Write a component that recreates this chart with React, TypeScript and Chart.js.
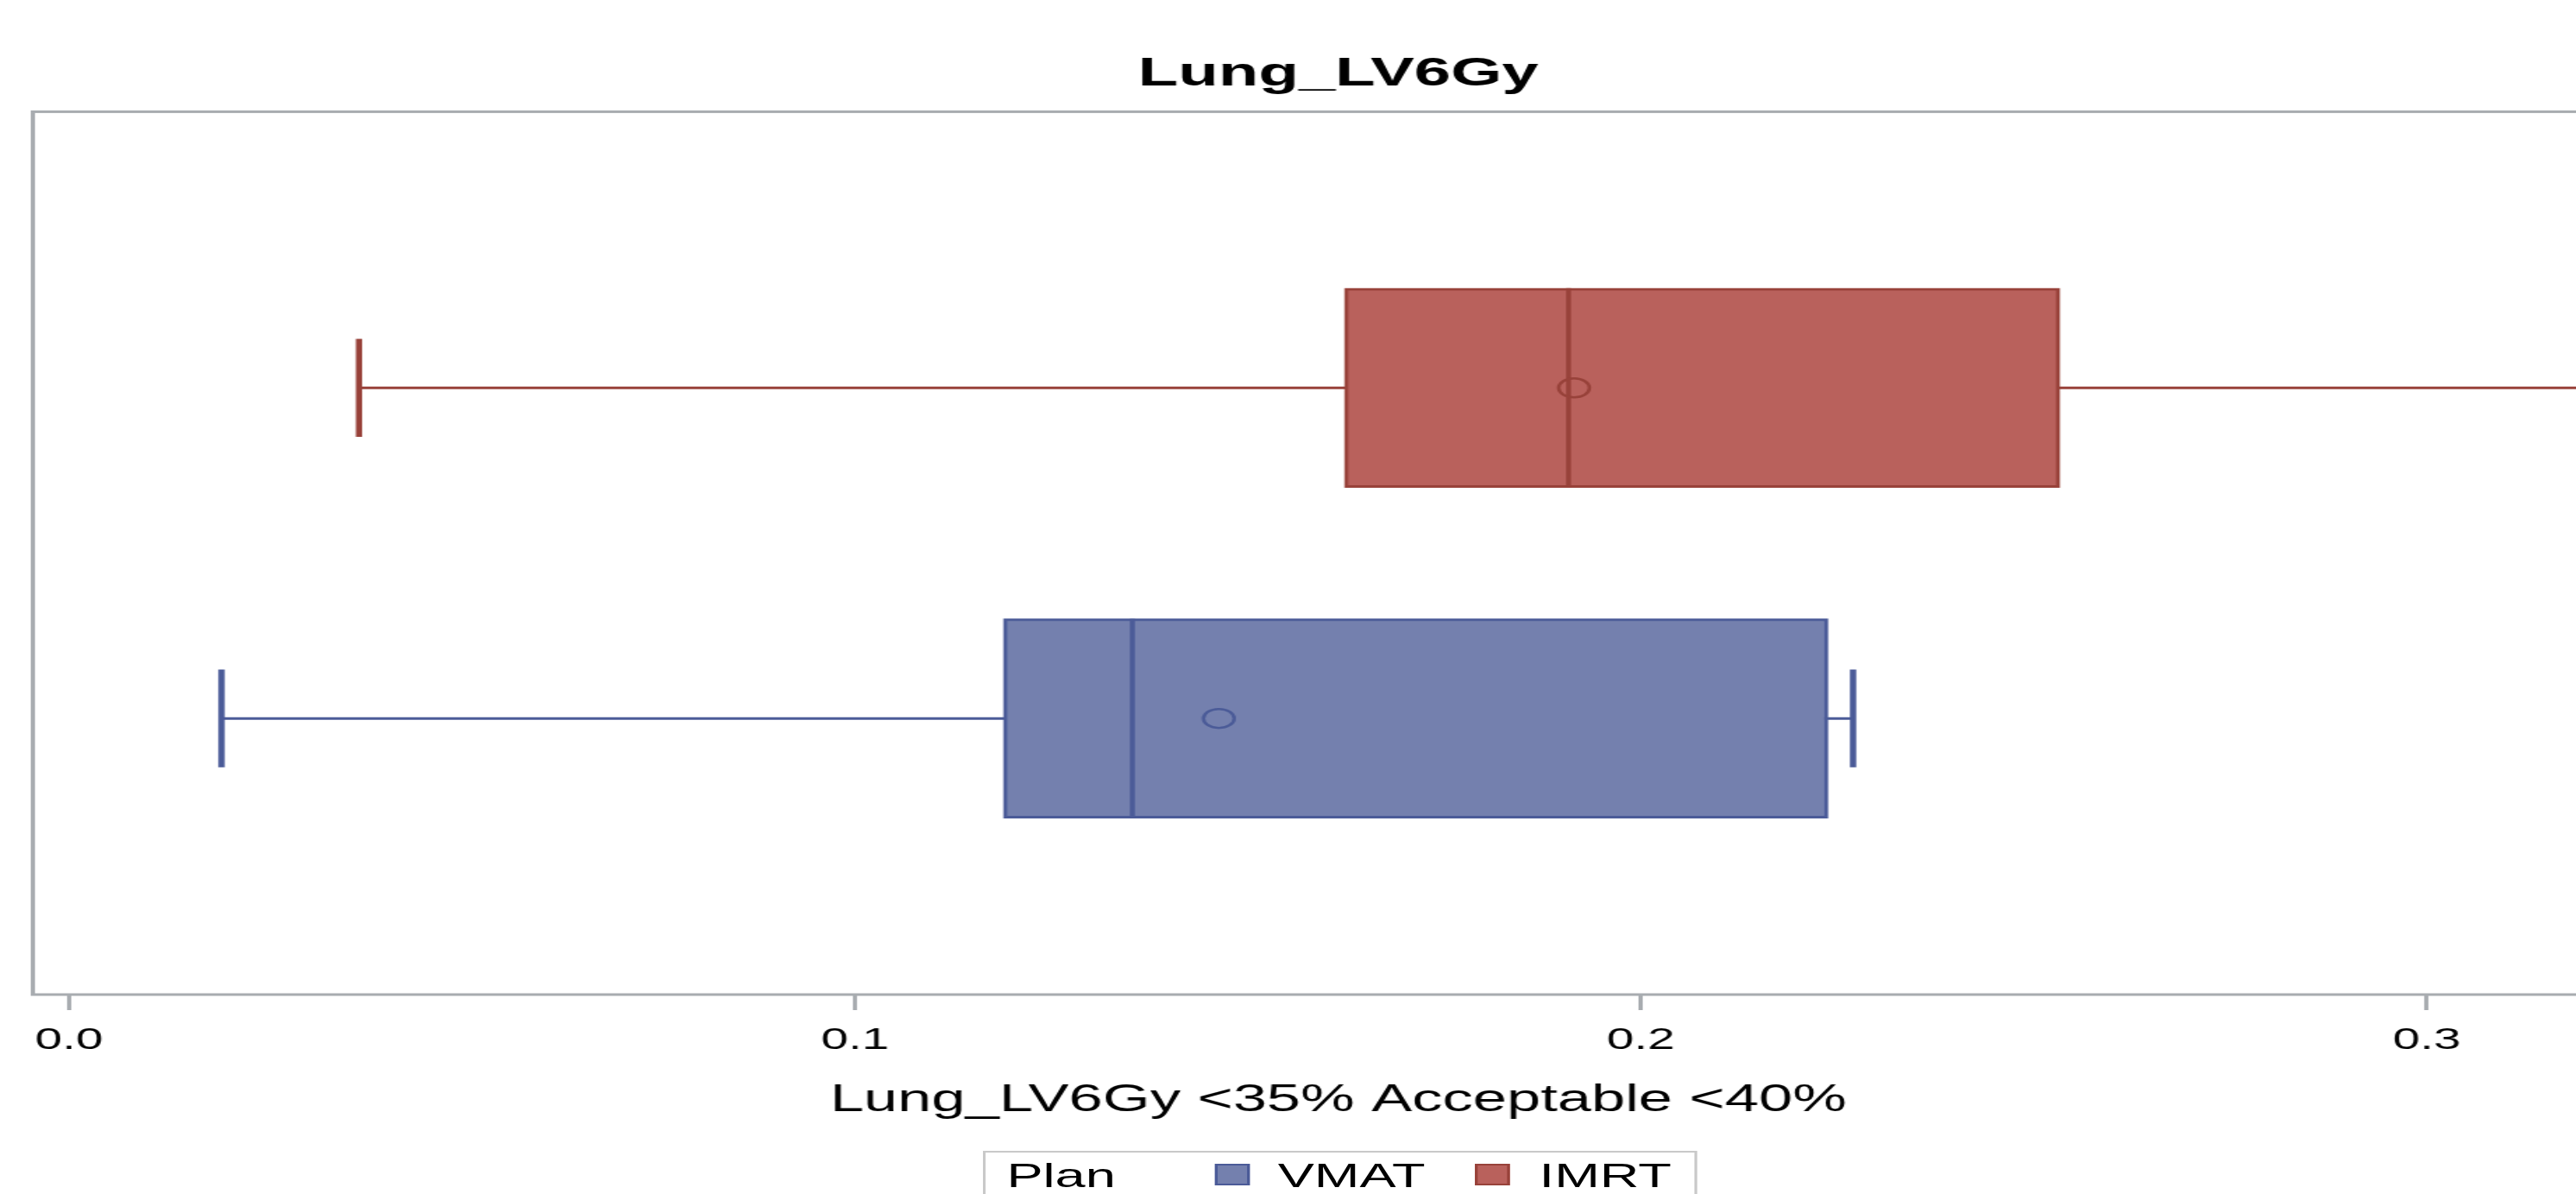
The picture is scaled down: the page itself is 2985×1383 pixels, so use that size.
import React, { useEffect, useRef } from 'react';
import { Chart, registerables } from 'chart.js';

Chart.register(...registerables);

// ---------- data ----------
const chartTitle = 'Lung_LV6Gy';
const xAxisTitle = 'Lung_LV6Gy <35% Acceptable <40%';
const legendTitle = 'Plan';
const plans = ['VMAT', 'IMRT'];
const whiskerLow = [0.0194, 0.0369];
const q1Values = [0.1189, 0.1623];
const medianValues = [0.1353, 0.1908];
const meanValues = [0.1463, 0.1915];
const q3Values = [0.2238, 0.2533];
const whiskerHigh = [0.227, 0.34];
const xTickValues = [0, 0.1, 0.2, 0.3];

// ---------- styles / layout ----------
const fillColors = ['#7480AE', '#B9615C'];
const lineColors = ['#4B5B98', '#98423A'];
const FRAME = '#a8acb0';
const FONT = "'Liberation Sans', Arial, sans-serif";
const STRETCH = 1.62;
const CANVAS_W = 1918;
const CANVAS_H = 1383;
const X_MIN = -0.0046;
const X_MAX = 0.3276;
const Y_MIN = -0.8355;
const Y_MAX = 1.8355;
const BOX_HALF = 0.3016;
const CAP_HALF = 0.148;

const framePlugin = {
  id: 'frame',
  beforeDatasetsDraw(chart: any) {
    const { ctx, chartArea } = chart;
    const { left, top, right, bottom } = chartArea;
    ctx.save();
    ctx.strokeStyle = FRAME;
    ctx.lineWidth = 3;
    ctx.strokeRect(left, top, right - left, bottom - top);
    ctx.restore();
  },
};

function buildDatasets() {
  const ds: any[] = [];
  plans.forEach((plan, i) => {
    const fill = fillColors[i];
    const line = lineColors[i];
    ds.push({
      type: 'scatter',
      label: plan + ' whisker',
      data: [
        { x: whiskerLow[i], y: i },
        { x: whiskerHigh[i], y: i },
      ],
      showLine: true,
      borderColor: line,
      borderWidth: 3,
      pointRadius: 0,
      order: 5,
    });
    ds.push({
      type: 'bar',
      label: plan,
      indexAxis: 'y',
      data: [{ x: [q1Values[i], q3Values[i]], y: i }],
      backgroundColor: fill,
      borderColor: line,
      borderWidth: 3,
      borderSkipped: false,
      barThickness: 231,
      maxBarThickness: 231,
      grouped: false,
      order: 4,
    });
    ds.push({
      type: 'scatter',
      label: plan + ' low cap',
      data: [
        { x: whiskerLow[i], y: i - CAP_HALF },
        { x: whiskerLow[i], y: i + CAP_HALF },
      ],
      showLine: true,
      borderColor: line,
      borderWidth: 4.5,
      pointRadius: 0,
      order: 3,
    });
    ds.push({
      type: 'scatter',
      label: plan + ' high cap',
      data: [
        { x: whiskerHigh[i], y: i - CAP_HALF },
        { x: whiskerHigh[i], y: i + CAP_HALF },
      ],
      showLine: true,
      borderColor: line,
      borderWidth: 4.5,
      pointRadius: 0,
      order: 3,
    });
    ds.push({
      type: 'scatter',
      label: plan + ' median',
      data: [
        { x: medianValues[i], y: i - BOX_HALF },
        { x: medianValues[i], y: i + BOX_HALF },
      ],
      showLine: true,
      borderColor: line,
      borderWidth: 3.5,
      pointRadius: 0,
      order: 2,
    });
    ds.push({
      type: 'scatter',
      label: plan + ' mean',
      data: [{ x: meanValues[i], y: i }],
      pointStyle: 'circle',
      pointRadius: 11,
      pointBorderWidth: 2.5,
      pointBackgroundColor: 'rgba(0,0,0,0)',
      pointBorderColor: line,
      order: 1,
    });
  });
  return ds;
}

export default function App() {
  const ref = useRef<HTMLCanvasElement>(null);

  useEffect(() => {
    if (!ref.current) return;
    const chart = new Chart(ref.current, {
      type: 'scatter',
      data: { datasets: buildDatasets() },
      options: {
        responsive: false,
        animation: false,
        devicePixelRatio: 1,
        layout: { padding: { left: 23.5, right: 27, top: 0, bottom: 0 } },
        plugins: {
          legend: { display: false },
          tooltip: { enabled: false },
          title: {
            display: true,
            text: chartTitle,
            color: '#000',
            font: { family: FONT, size: 47, weight: 'bold' },
            padding: { top: 58, bottom: 15 },
          },
        },
        scales: {
          x: {
            type: 'linear',
            min: X_MIN,
            max: X_MAX,
            offset: false,
            afterBuildTicks: (axis: any) => {
              axis.ticks = xTickValues.map((v) => ({ value: v }));
            },
            afterFit: (axis: any) => {
              axis.height = 231;
            },
            border: { display: false },
            grid: {
              offset: false,
              drawOnChartArea: false,
              drawTicks: true,
              tickLength: 18,
              tickWidth: 3,
              tickColor: FRAME,
              color: FRAME,
              lineWidth: 3,
            },
            ticks: {
              color: '#000',
              font: { family: FONT, size: 35 },
              padding: 14.5,
              maxRotation: 0,
              autoSkip: false,
              callback: (v: any) => Number(v).toFixed(1),
            },
            title: {
              display: true,
              text: xAxisTitle,
              color: '#000',
              font: { family: FONT, size: 43.5 },
              padding: { top: 0, bottom: 82 },
            },
          },
          y: {
            type: 'linear',
            display: false,
            offset: false,
            grace: 0,
            bounds: 'data',
            grid: { offset: false },
            min: Y_MIN,
            max: Y_MAX,
          },
        },
      } as any,
      plugins: [framePlugin],
    });
    return () => chart.destroy();
  }, []);

  return (
    <div
      style={{
        position: 'absolute',
        left: 0,
        top: 0,
        width: 2985,
        height: 1383,
        overflow: 'hidden',
        background: '#fff',
      }}
    >
      <div
        style={{
          position: 'absolute',
          left: 0,
          top: 0,
          width: CANVAS_W,
          height: CANVAS_H,
          transform: `scaleX(${STRETCH})`,
          transformOrigin: '0 0',
        }}
      >
        <canvas ref={ref} width={CANVAS_W} height={CANVAS_H} style={{ display: 'block' }} />
        <div
          style={{
            position: 'absolute',
            left: 703,
            top: 1333,
            width: 511,
            height: 72,
            border: '2px solid #c9c9c9',
            boxSizing: 'border-box',
            fontFamily: FONT,
            fontSize: 39,
            lineHeight: '39px',
            color: '#000',
            whiteSpace: 'nowrap',
            background: '#fff',
          }}
        >
          <span style={{ position: 'absolute', left: 15, top: 7 }}>{legendTitle}</span>
          {plans.map((p, i) => (
            <React.Fragment key={p}>
              <span
                style={{
                  position: 'absolute',
                  left: 164 + i * 186,
                  top: 13,
                  width: 25,
                  height: 25,
                  background: fillColors[i],
                  border: `2px solid ${lineColors[i]}`,
                  boxSizing: 'border-box',
                }}
              />
              <span style={{ position: 'absolute', left: 209 + i * 187, top: 7 }}>{p}</span>
            </React.Fragment>
          ))}
        </div>
      </div>
    </div>
  );
}
